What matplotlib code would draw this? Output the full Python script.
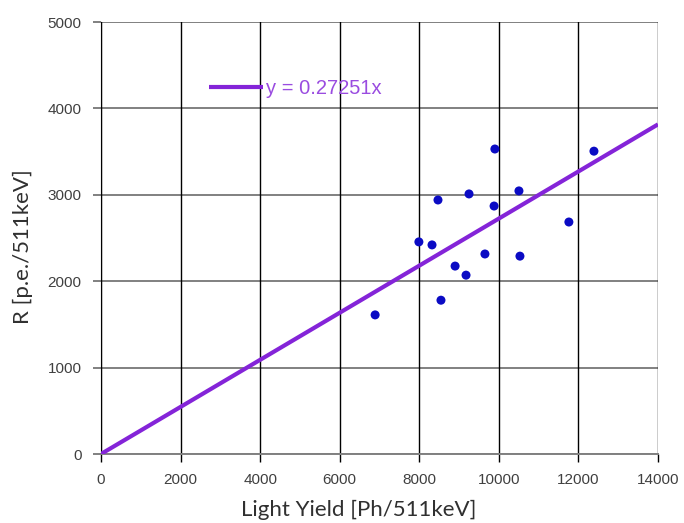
import matplotlib
matplotlib.use('Agg')
import matplotlib.pyplot as plt
import numpy as np

# data
light_yield = [6890, 7990, 8320, 8470, 8545, 8900, 9175, 9250, 9650,
               9880, 9900, 10505, 10530, 11760, 12390]
resolution = [1610, 2455, 2420, 2940, 1780, 2175, 2070, 3010, 2315,
              2870, 3530, 3045, 2290, 2685, 3505]
slope = 0.27251
fit_x = [0, 14000]

x_ticks = [0, 2000, 4000, 6000, 8000, 10000, 12000, 14000]
y_ticks = [0, 1000, 2000, 3000, 4000, 5000]

fig = plt.figure(figsize=(6.84, 5.23), dpi=100)
ax = fig.add_axes([101/684, 69/523, 557/684, 432/523])

# grid: horizontal grey, vertical black
for y in y_ticks:
    ax.axhline(y, color='#808080', lw=1.4, zorder=1)
for x in x_ticks:
    ax.axvline(x, color='black', lw=1.0, zorder=1)

fit_y = [slope*v for v in fit_x]
ax.plot(fit_x, fit_y, color='#8424d8', lw=3, zorder=3,
        label='y = 0.27251x', solid_capstyle='butt')
ax.scatter(light_yield, resolution, s=42, color='#0b0bc4', zorder=4,
           edgecolors='none')

ax.set_xlim(0, 14000)
ax.set_ylim(0, 5000)
ax.set_xticks(x_ticks)
ax.set_yticks(y_ticks)

for s in ['top', 'right']:
    ax.spines[s].set_visible(False)
ax.spines['bottom'].set_color('#808080')
ax.spines['bottom'].set_linewidth(1.4)
ax.spines['left'].set_color('black')

ax.tick_params(axis='x', direction='out', length=5.5, width=1, color='black',
               labelsize=11, labelcolor='#404040', pad=8)
ax.tick_params(axis='y', direction='out', length=6, width=1.4, color='#808080',
               labelsize=11, labelcolor='#404040', pad=8)
for lab in ax.get_xticklabels() + ax.get_yticklabels():
    lab.set_family('Liberation Sans')

ax.set_xlabel('Light Yield [Ph/511keV]', family='Lato', fontsize=16,
              color='#303030')
ax.set_ylabel('R [p.e./511keV]', family='Lato', fontsize=16,
              color='#303030')
ax.xaxis.set_label_coords(0.463, -0.105)
ax.yaxis.set_label_coords(-0.122, 0.48)

leg = ax.legend(loc='center left', bbox_to_anchor=(0.194, 0.845), frameon=False,
                borderpad=0, borderaxespad=0,
                handlelength=2.7, handletextpad=0.15,
                prop={'family': 'Liberation Sans', 'size': 14.5})
for t in leg.get_texts():
    t.set_color('#9a4ce0')

fig.savefig('out.png', dpi=100)
